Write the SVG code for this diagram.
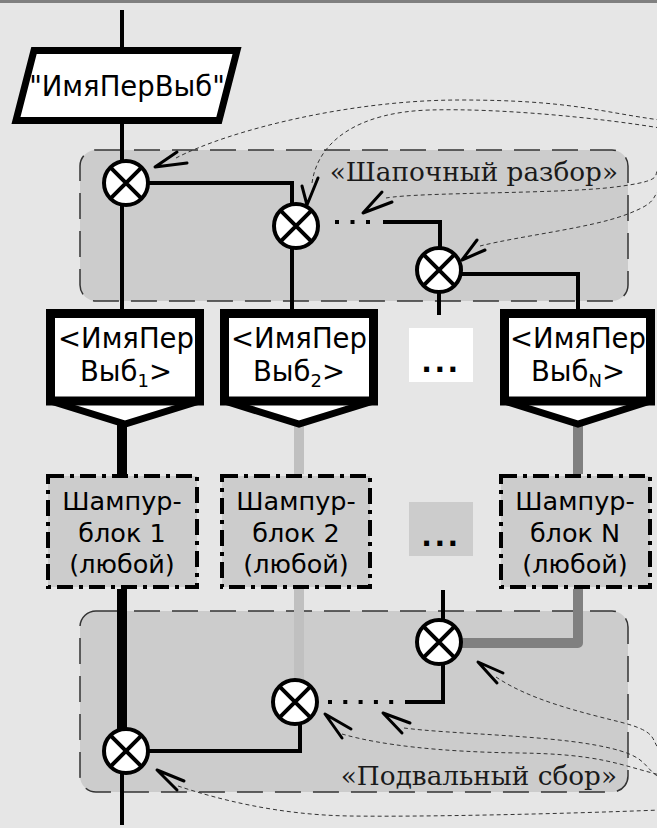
<svg xmlns="http://www.w3.org/2000/svg" width="657" height="828" viewBox="0 0 657 828">
  <style>
    .sans { font-family: "DejaVu Sans", "Liberation Sans", sans-serif; fill: #000; }
    .serif { font-family: "DejaVu Serif", "Liberation Serif", serif; fill: #1a1a1a; font-size: 26.3px; }
    .region { fill: #cccccc; stroke: #333; stroke-width: 1.5; stroke-dasharray: 26 12; }
    .wire { fill: none; stroke: #000; stroke-width: 4; }
    .dots { fill: none; stroke: #000; stroke-width: 4; stroke-dasharray: 4 11.5; }
    .var rect, .var polygon { fill: #fff; stroke: #000; }
    .var rect { stroke-width: 9; }
    .var polygon { stroke-width: 7; stroke-linejoin: miter; }
    .blk { fill: #cccccc; stroke: #000; stroke-width: 4; stroke-dasharray: 16 6 4 6; }
    .hdr { font-size: 27.5px; text-anchor: middle; }
    .sub { font-size: 18px; }
    .t24 { font-size: 25.5px; text-anchor: middle; }
    .note { fill: none; stroke: #333; stroke-width: 1; stroke-dasharray: 4 3; }
    .head { fill: none; stroke: #000; stroke-width: 3; stroke-linecap: round; stroke-linejoin: round; }
  </style>
  <defs>
    <g id="xmark">
      <circle r="22" fill="#fff" stroke="#000" stroke-width="4"/>
      <path d="M-15.6,-15.6 L15.6,15.6 M15.6,-15.6 L-15.6,15.6" stroke="#000" stroke-width="4"/>
    </g>
  </defs>

  <!-- canvas -->
  <rect x="0" y="0" width="657" height="828" fill="#e6e6e6"/>
  <rect x="0" y="0" width="657" height="3" fill="#808080"/>

  <!-- dashed rounded regions -->
  <rect id="cap-region" class="region" x="80" y="150" width="548" height="151" rx="16"/>
  <rect id="base-region" class="region" x="80" y="611" width="548" height="181" rx="16"/>

  <!-- connectors -->
  <g id="connectors">
    <path class="wire" d="M122,10 V50"/>
    <path class="wire" d="M122,121 V313"/>
    <path class="wire" d="M148,183 H292 V204"/>
    <path class="wire" d="M292,248 V313"/>
    <path class="dots" d="M335,222 H371"/>
    <path class="wire" d="M383,222 H440 V248"/>
    <path class="wire" d="M439,292 V315"/>
    <path class="wire" d="M461,274 H578 V313"/>

    <path fill="none" stroke="#000" stroke-width="10" d="M122,424 V474"/>
    <path fill="none" stroke="#c0c0c0" stroke-width="10" d="M299,424 V474"/>
    <path fill="none" stroke="#808080" stroke-width="10" d="M578,424 V474"/>

    <path fill="none" stroke="#000" stroke-width="10" d="M122,589 V729"/>
    <path class="wire" d="M122,773 V825"/>
    <path fill="none" stroke="#c0c0c0" stroke-width="10" d="M299,589 V680"/>
    <path class="wire" d="M300,724 V751 H148"/>
    <path class="wire" d="M443,590 V620"/>
    <path fill="none" stroke="#808080" stroke-width="10" stroke-linejoin="round" d="M461,643 H578 V589"/>
    <path class="wire" d="M443,664 V702 H405"/>
    <path class="dots" d="M328,702 H394" style="stroke-dasharray:4 11.3"/>
  </g>

  <!-- input node -->
  <g id="input">
    <polygon points="34,50.5 237,50.5 219,120.5 16,120.5" fill="#fff" stroke="#000" stroke-width="7"/>
    <text class="sans" x="127" y="96" font-size="27.5" text-anchor="middle">"ИмяПерВыб"</text>
  </g>

  <!-- split and join points -->
  <g id="split1"><use href="#xmark" x="126" y="183"/></g>
  <g id="split2"><use href="#xmark" x="296" y="226"/></g>
  <g id="split3"><use href="#xmark" x="439" y="270"/></g>
  <g id="join1"><use href="#xmark" x="126" y="751"/></g>
  <g id="join2"><use href="#xmark" x="295" y="702"/></g>
  <g id="join3"><use href="#xmark" x="439" y="642"/></g>

  <!-- variant headers -->
  <g id="var1" class="var">
    <polygon points="50.5,401 125,424 199.5,401"/>
    <rect x="50.5" y="313.5" width="149" height="87.5"/>
    <text class="sans hdr" x="126" y="348">&lt;ИмяПер</text>
    <text class="sans hdr" x="126" y="381">Выб<tspan class="sub" dy="6">1</tspan><tspan dy="-6">&gt;</tspan></text>
  </g>
  <g id="var2" class="var">
    <polygon points="224.5,401 299,424 373.5,401"/>
    <rect x="224.5" y="313.5" width="149" height="87.5"/>
    <text class="sans hdr" x="299" y="348">&lt;ИмяПер</text>
    <text class="sans hdr" x="299" y="381">Выб<tspan class="sub" dy="6">2</tspan><tspan dy="-6">&gt;</tspan></text>
  </g>
  <g id="varN" class="var">
    <polygon points="504.5,401 578,424 650.5,401"/>
    <rect x="504.5" y="313.5" width="146" height="87.5"/>
    <text class="sans hdr" x="578" y="348">&lt;ИмяПер</text>
    <text class="sans hdr" x="578" y="381">Выб<tspan class="sub" dy="6">N</tspan><tspan dy="-6">&gt;</tspan></text>
  </g>
  <g id="var-more">
    <rect x="409" y="328" width="64" height="54" fill="#fff"/>
    <text class="sans" x="441" y="372" font-size="28" font-weight="bold" text-anchor="middle" letter-spacing="2.5">...</text>
  </g>

  <!-- skewer blocks -->
  <g id="block1">
    <rect class="blk" x="48" y="476" width="149" height="111"/>
    <text class="sans t24" x="122" y="510">Шампур-</text>
    <text class="sans t24" x="122" y="542">блок 1</text>
    <text class="sans t24" x="122" y="573">(любой)</text>
  </g>
  <g id="block2">
    <rect class="blk" x="222" y="476" width="148" height="111"/>
    <text class="sans t24" x="296" y="510">Шампур-</text>
    <text class="sans t24" x="296" y="542">блок 2</text>
    <text class="sans t24" x="296" y="573">(любой)</text>
  </g>
  <g id="blockN">
    <rect class="blk" x="501" y="476" width="149" height="111"/>
    <text class="sans t24" x="575" y="510">Шампур-</text>
    <text class="sans t24" x="575" y="542">блок N</text>
    <text class="sans t24" x="575" y="573">(любой)</text>
  </g>
  <g id="block-more">
    <rect x="409" y="502" width="64" height="54" fill="#cccccc"/>
    <text class="sans" x="441" y="546" font-size="28" font-weight="bold" text-anchor="middle" letter-spacing="2.5">...</text>
  </g>

  <!-- region labels -->
  <text class="serif" x="618" y="181" text-anchor="end">«Шапочный разбор»</text>
  <text class="serif" x="617" y="785" text-anchor="end">«Подвальный сбор»</text>

  <!-- annotation links -->
  <g id="notes">
    <path class="note" d="M176,158 C230,130 350,100 460,100 S600,112 660,120"/>
    <path class="head" d="M177,152 L155,167 L187,163"/>
    <path class="note" d="M312,183 C318,140 360,112 430,110 S600,118 660,128"/>
    <path class="head" d="M302,186 L307,205 L318,178"/>
    <path class="note" d="M386,198 C420,192 560,194 615,187 S650,175 660,168"/>
    <path class="head" d="M382,192 L363,213 L392,202"/>
    <path class="note" d="M480,246 C520,236 590,228 625,215 S650,198 660,190"/>
    <path class="head" d="M477,240 L462,260 L485,250"/>

    <path class="note" d="M178,786 C220,800 280,815 350,816 S560,814 660,810"/>
    <path class="head" d="M184,781 L157,770 L177,790"/>
    <path class="note" d="M342,734 C380,745 440,752 520,753 S620,765 660,775"/>
    <path class="head" d="M351,729 L325,714 L342,738"/>
    <path class="note" d="M404,728 C450,734 540,735 595,745 S640,765 660,778"/>
    <path class="head" d="M410,723 L383,713 L402,733"/>
    <path class="note" d="M496,677 C530,700 580,712 620,722 S650,740 660,750"/>
    <path class="head" d="M503,673 L478,662 L497,683"/>
  </g>
</svg>
